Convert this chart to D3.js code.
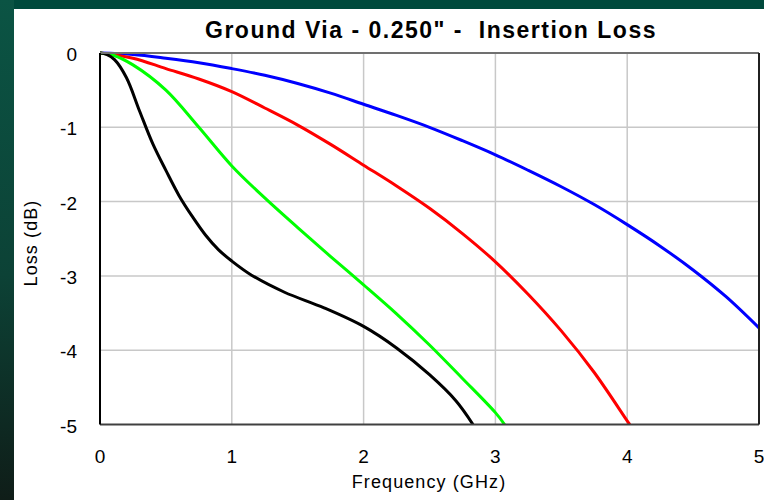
<!DOCTYPE html>
<html><head><meta charset="utf-8">
<script src="https://cdn.jsdelivr.net/npm/d3@7"></script>
<style>html,body{margin:0;padding:0;background:#fff;}svg{display:block;}text{white-space:pre;}</style>
</head><body>
<svg id="c" width="764" height="500"></svg>
<script>
const title = 'Ground Via - 0.250" -  Insertion Loss';
const xTitle = "Frequency (GHz)";
const yTitle = "Loss (dB)";
const xTicks = [0,1,2,3,4,5];
const yTicks = [0,-1,-2,-3,-4,-5];

const blueX = [0,0.25,0.5,0.75,1,1.25,1.5,1.75,2,2.25,2.5,2.75,3,3.25,3.5,3.75,4,4.25,4.5,4.75,5];
const blueY = [0,-0.02,-0.07,-0.13,-0.21,-0.30,-0.41,-0.54,-0.69,-0.84,-1.0,-1.18,-1.37,-1.58,-1.80,-2.04,-2.31,-2.60,-2.92,-3.28,-3.70];
const redX = [0,0.25,0.5,0.75,1,1.25,1.5,1.75,2,2.25,2.5,2.75,3,3.25,3.5,3.75,4,4.02];
const redY = [0,-0.07,-0.21,-0.35,-0.52,-0.74,-0.97,-1.23,-1.51,-1.79,-2.09,-2.43,-2.81,-3.25,-3.74,-4.30,-4.95,-5.0];
const greenX = [0,0.1,0.25,0.5,0.75,1,1.25,1.5,1.75,2,2.25,2.5,2.75,3,3.07];
const greenY = [0,-0.03,-0.16,-0.50,-1.0,-1.52,-1.95,-2.35,-2.74,-3.12,-3.51,-3.93,-4.38,-4.84,-5.0];
const blackX = [0,0.05,0.11,0.2,0.3,0.4,0.5,0.6,0.7,0.8,0.9,1.0,1.15,1.4,1.7,2.0,2.25,2.5,2.7,2.83];
const blackY = [0,-0.02,-0.09,-0.33,-0.78,-1.22,-1.58,-1.92,-2.2,-2.45,-2.65,-2.80,-2.99,-3.22,-3.43,-3.68,-3.97,-4.33,-4.68,-5.0];

const series = [
  {x: blueX, y: blueY, color: "#0000ff"},
  {x: redX, y: redY, color: "#ff0000"},
  {x: greenX, y: greenY, color: "#00ff00"},
  {x: blackX, y: blackY, color: "#000000"}
];

const svg = d3.select("#c");
const defs = svg.append("defs");
const lg = defs.append("linearGradient").attr("id","lg").attr("x1",0).attr("y1",0).attr("x2",0).attr("y2",1);
lg.append("stop").attr("offset","0%").attr("stop-color","#0b5444");
lg.append("stop").attr("offset","55%").attr("stop-color","#0c4236");
lg.append("stop").attr("offset","100%").attr("stop-color","#0f1d18");
svg.append("rect").attr("x",0).attr("y",0).attr("width",764).attr("height",500).attr("fill","url(#lg)");
svg.append("rect").attr("x",14).attr("y",0).attr("width",750).attr("height",9).attr("fill","#004a3c");
svg.append("rect").attr("x",14).attr("y",9).attr("width",750).attr("height",491).attr("fill","#ffffff");

const L = 100, R = 759, T = 53, B = 424.5;
const x = d3.scaleLinear().domain([0,5]).range([L,R]);
const y = d3.scaleLinear().domain([0,-5]).range([T,B]);

// grid
const g = svg.append("g");
g.selectAll("line.vg").data(xTicks.slice(1,-1)).join("line")
  .attr("x1",d=>x(d)).attr("x2",d=>x(d)).attr("y1",T).attr("y2",B)
  .attr("stroke","#c8c8c8").attr("stroke-width",1.5);
g.selectAll("line.hg").data(yTicks.slice(1,-1)).join("line")
  .attr("y1",d=>y(d)).attr("y2",d=>y(d)).attr("x1",L).attr("x2",R)
  .attr("stroke","#c8c8c8").attr("stroke-width",1.5);

defs.append("clipPath").attr("id","clip").append("rect")
  .attr("x",L).attr("y",T-3).attr("width",R-L).attr("height",B-T+3);

const line = d3.line().x(d=>x(d[0])).y(d=>y(d[1])).curve(d3.curveCatmullRom.alpha(0.5));
svg.append("g").attr("clip-path","url(#clip)").selectAll("path").data(series).join("path")
  .attr("d", s => line(s.x.map((v,i)=>[v, s.y[i]])))
  .attr("fill","none").attr("stroke",s=>s.color).attr("stroke-width",3).attr("stroke-linejoin","round");

// frame
svg.append("line").attr("x1",L).attr("x2",R).attr("y1",T).attr("y2",T).attr("stroke","#707070").attr("stroke-width",2);
svg.append("line").attr("x1",L).attr("x2",R).attr("y1",B).attr("y2",B).attr("stroke","#404040").attr("stroke-width",2);
svg.append("line").attr("x1",L).attr("x2",L).attr("y1",T).attr("y2",B).attr("stroke","#000").attr("stroke-width",2);
svg.append("line").attr("x1",R).attr("x2",R).attr("y1",T).attr("y2",B).attr("stroke","#202020").attr("stroke-width",2);

// axes labels
const font = "'Liberation Sans', Arial, sans-serif";
svg.selectAll("text.xt").data(xTicks).join("text")
  .attr("x",d=>x(d)).attr("y",463).attr("text-anchor","middle")
  .attr("font-family",font).attr("font-size",19).attr("fill","#000").text(d=>d);
svg.selectAll("text.yt").data(yTicks).join("text")
  .attr("x",77).attr("y",d=>y(d)+8).attr("text-anchor","end")
  .attr("font-family",font).attr("font-size",19).attr("fill","#000").text(d=>d);

svg.append("text").attr("x",429).attr("y",488).attr("text-anchor","middle")
  .attr("font-family",font).attr("font-size",18).attr("letter-spacing",1.1).attr("fill","#000").text(xTitle);
svg.append("text").attr("transform","translate(37,243) rotate(-90)").attr("text-anchor","middle")
  .attr("font-family",font).attr("font-size",18).attr("letter-spacing",1.1).attr("fill","#000").text(yTitle);
svg.append("text").attr("x",431).attr("y",38).attr("text-anchor","middle")
  .attr("font-family",font).attr("font-size",23).attr("letter-spacing",1.5).attr("font-weight","bold").attr("fill","#000").text(title);
</script>
</body></html>
